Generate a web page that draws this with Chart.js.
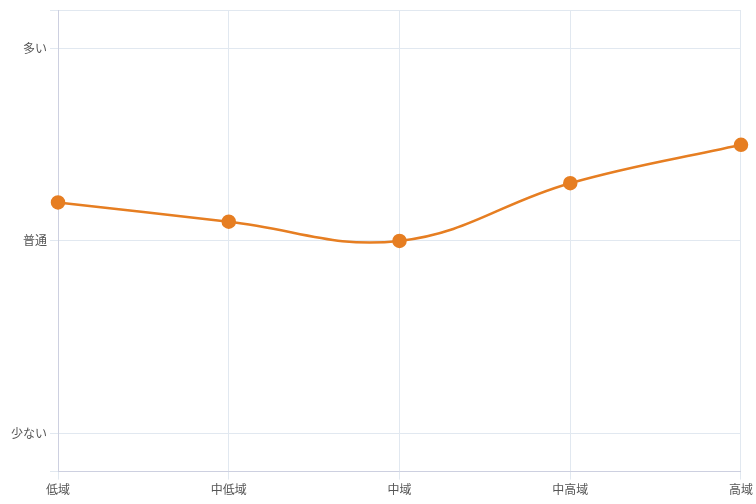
<!DOCTYPE html>
<html>
<head>
<meta charset="utf-8">
<script src="https://cdn.jsdelivr.net/npm/chart.js@4"></script>
<style>
  html, body { margin: 0; padding: 0; background: #fff; }
  #wrap { width: 756px; height: 504px; }
</style>
</head>
<body>
<div id="wrap"><canvas id="chart"></canvas></div>
<script>
const categories = ['低域', '中低域', '中域', '中高域', '高域'];
const levels = [2.2, 2.1, 2.0, 2.3, 2.5];
const levelLabels = { 1: '少ない', 2: '普通', 3: '多い' };

Chart.defaults.font.family = '"Noto Sans CJK JP", "Noto Sans", sans-serif';
Chart.defaults.font.size = 12;
Chart.defaults.color = '#666';

new Chart(document.getElementById('chart'), {
  type: 'line',
  data: {
    labels: categories,
    datasets: [{
      data: levels,
      borderColor: '#e67e22',
      backgroundColor: '#e67e22',
      borderWidth: 2.5,
      pointRadius: 6,
      pointHoverRadius: 6,
      tension: 0.4,
      fill: false
    }]
  },
  options: {
    responsive: true,
    maintainAspectRatio: false,
    animation: false,
    layout: { padding: { left: 8, bottom: 4 } },
    plugins: { legend: { display: false }, tooltip: { enabled: false } },
    scales: {
      x: {
        grid: { color: '#e1e8f0' },
        border: { color: '#cdd0e0' },
        ticks: { color: '#555' }
      },
      y: {
        min: 0.8,
        max: 3.2,
        grid: { color: '#e1e8f0' },
        border: { color: '#cdd0e0' },
        ticks: {
          stepSize: 1,
          color: '#555',
          callback: v => levelLabels[v] || ''
        }
      }
    }
  }
});
</script>
</body>
</html>
